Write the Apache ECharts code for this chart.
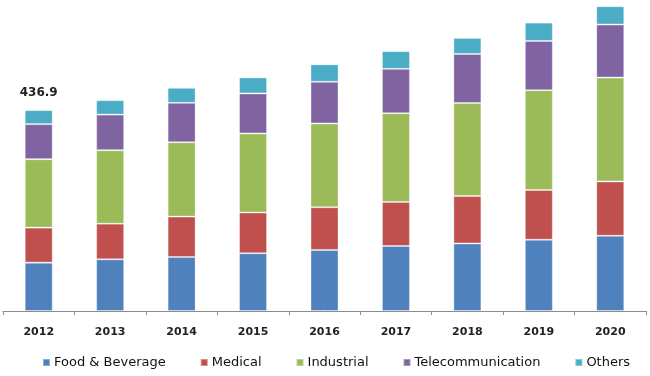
<!DOCTYPE html>
<html>
<head>
<meta charset="utf-8">
<script src="https://cdn.jsdelivr.net/npm/echarts@6/dist/echarts.min.js"></script>
<style>
  html, body { margin: 0; padding: 0; background: #fff; }
  #chart { width: 650px; height: 376px; }
</style>
</head>
<body>
<div id="chart"></div>
<script>
// values, per year
const years = ["2012", "2013", "2014", "2015", "2016", "2017", "2018", "2019", "2020"]
const foodBeverage = [105.2, 112.5, 117.6, 125.6, 132.8, 141.5, 147.0, 155.0, 163.7]
const medical = [76.2, 77.5, 87.7, 88.6, 93.0, 95.8, 103.0, 108.2, 118.2]
const industrial = [148.9, 159.8, 161.7, 172.0, 182.2, 193.1, 202.5, 217.0, 225.8]
const telecom = [76.2, 77.5, 85.8, 87.1, 90.6, 96.4, 106.7, 107.3, 115.4]
const others = [30.4, 31.3, 32.7, 34.8, 37.9, 38.5, 34.8, 39.8, 39.8]

const seriesNames = ["Food & Beverage", "Medical", "Industrial", "Telecommunication", "Others"]
const seriesData = [foodBeverage, medical, industrial, telecom, others]
const colors = ["#4F81BD", "#C0504D", "#9BBB59", "#8064A2", "#4BACC6"]

// only the first bar carries its total on top
const firstTotal = seriesData.reduce((s, arr) => s + arr[0], 0)

const chart = echarts.init(document.getElementById("chart"))

const series = seriesData.map((arr, i) => ({
  name: seriesNames[i],
  type: "bar",
  stack: "total",
  barWidth: 28,
  itemStyle: { color: colors[i], borderColor: "rgba(255,255,255,0.35)", borderWidth: 1 },
  data: arr.map((v, j) => {
    if (i === seriesData.length - 1 && j === 0) {
      return {
        value: v,
        label: {
          show: true,
          position: "top",
          distance: 11,
          formatter: firstTotal.toFixed(1),
          fontFamily: "DejaVu Sans",
          fontWeight: "bold",
          fontSize: 12,
          color: "#222",
        },
      }
    }
    return v
  }),
}))

chart.setOption({
  animation: false,
  color: colors,
  grid: { left: 3, right: 4, top: 3, bottom: 65, containLabel: false },
  xAxis: {
    type: "category",
    data: years,
    axisLine: { lineStyle: { color: "#8c8c8c", width: 1 } },
    axisTick: { show: true, length: 4, lineStyle: { color: "#8c8c8c" } },
    axisLabel: {
      margin: 16,
      fontFamily: "DejaVu Sans",
      fontWeight: "bold",
      fontSize: 11,
      color: "#222",
    },
  },
  yAxis: {
    type: "value",
    show: false,
    min: 0,
    max: 670,
    splitLine: { show: false },
  },
  legend: {
    bottom: 2,
    left: 37,
    itemWidth: 7,
    itemHeight: 7,
    itemGap: 34,
    icon: "rect",
    textStyle: { fontFamily: "DejaVu Sans", fontSize: 13, color: "#111", padding: [0, 0, 0, -1] },
    data: seriesNames,
  },
  series: series,
})
</script>
</body>
</html>
